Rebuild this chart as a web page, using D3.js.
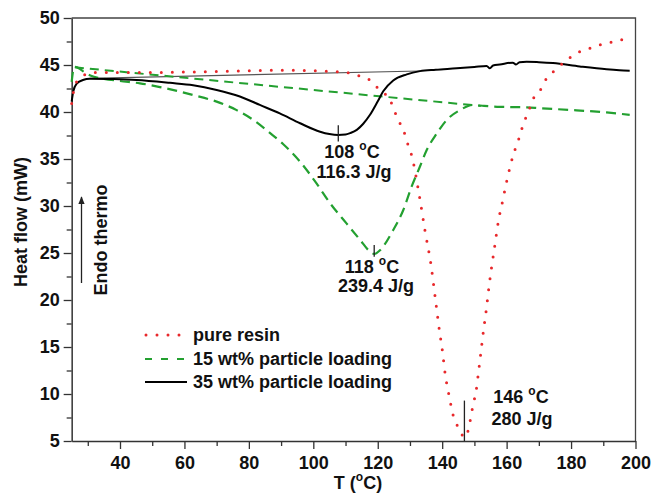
<!DOCTYPE html>
<html>
<head>
<meta charset="utf-8">
<script src="https://cdn.jsdelivr.net/npm/d3@7"></script>
<style>
  html, body { margin: 0; padding: 0; background: #fff; }
  svg { display: block; }
  text { font-family: "Liberation Sans", Arial, sans-serif; font-weight: bold; fill: #111; }
</style>
</head>
<body>
<svg id="chart" width="651" height="494"></svg>
<script>
// ---------- data ----------
const xTicks = [40, 60, 80, 100, 120, 140, 160, 180, 200];
const yTicks = [5, 10, 15, 20, 25, 30, 35, 40, 45, 50];

const redT = [25.0, 25.5, 26.3, 28.0, 29.4, 32.9, 40, 50, 60, 70, 80, 90, 100, 106, 110.3, 113.8, 117.5, 120.7, 123.8, 125.3, 126.9, 128.5, 129.4, 130.5, 133.1, 134.7, 136.5, 137.8, 139.1, 140.1, 140.9, 142.1, 143.5, 145.5, 146.5, 147.3, 148.1, 149.5, 150.6, 151.3, 152.0, 152.8, 153.7, 154.5, 155.4, 156.4, 157.4, 158.8, 160.2, 161.9, 163.1, 164.2, 165.2, 166.8, 167.8, 170.2, 171.9, 175.0, 178.6, 181.7, 185.3, 188.5, 192.1, 195.2, 198.8];
const redH = [40.9, 42.0, 43.05, 43.7, 44.0, 44.2, 44.2, 44.2, 44.25, 44.3, 44.4, 44.45, 44.4, 44.3, 44.2, 43.9, 43.4, 42.3, 41.3, 40.0, 38.8, 37.55, 36.5, 35.4, 30.7, 27.3, 23.8, 20.35, 16.85, 14.5, 12.2, 9.9, 7.6, 6.2, 5.5, 5.4, 6.2, 8.7, 10.5, 12.4, 14.4, 16.7, 19.0, 21.35, 23.65, 25.95, 28.3, 30.6, 32.9, 35.25, 36.5, 37.55, 38.8, 40.0, 41.1, 42.15, 43.3, 44.45, 45.5, 46.25, 46.7, 47.1, 47.4, 47.65, 48.0];

const greenT = [25.0, 25.8, 27.5, 29.0, 31.0, 33.8, 40, 46.2, 52.4, 57, 62.7, 70, 76.2, 81.4, 86.6, 90.6, 95.8, 101.0, 105.2, 110.3, 114.5, 117.6, 118.9, 120.7, 124.8, 127.9, 130.5, 133.1, 135.2, 138.3, 141.4, 145.5, 149.6, 153, 157.9, 166.2, 170.3, 180.7, 191.0, 198.2];
const greenH = [43.2, 44.8, 44.6, 44.2, 43.85, 43.6, 43.3, 43.05, 42.65, 42.3, 41.8, 41.1, 40.2, 39.15, 37.75, 36.6, 34.75, 32.4, 30.3, 28.15, 26.4, 25.15, 24.9, 25.3, 27.45, 29.55, 32.05, 34.2, 35.95, 37.7, 39.15, 40.2, 40.75, 40.65, 40.55, 40.5, 40.4, 40.2, 39.95, 39.7];

const blackT = [25.0, 25.5, 26.5, 28.5, 30.6, 38, 45.1, 55.5, 62.7, 70, 77.2, 83.4, 89.6, 95.9, 102.1, 105, 107.7, 110, 111.4, 113.5, 115.5, 117.6, 120.1, 121.7, 124.8, 129.0, 133.1, 138, 144.5, 150, 153.8, 154.8, 155.8, 157.9, 161.9, 162.9, 164, 166.2, 170, 174.4, 182.7, 191.0, 195, 198.2];
const blackH = [41.1, 42.2, 43.0, 43.4, 43.55, 43.5, 43.4, 43.1, 42.85, 42.35, 41.65, 40.75, 39.85, 38.8, 37.9, 37.65, 37.55, 37.6, 37.75, 38.1, 38.75, 39.7, 41.2, 42.2, 43.35, 44.0, 44.35, 44.5, 44.65, 44.8, 44.9, 44.65, 44.95, 45.05, 45.25, 45.05, 45.3, 45.35, 45.3, 45.2, 44.85, 44.55, 44.45, 44.4];

const greenBaseT = [26.0, 152.0];
const greenBaseH = [44.75, 40.65];
const blackBaseT = [30.6, 133.1];
const blackBaseH = [43.58, 44.36];

// peak markers: [T, Hlow, Hhigh]
const markerT = [107.75, 118.9, 146.9];
const markerLo = [36.85, 24.6, 5];
const markerHi = [38.6, 25.85, 9.3];

const seriesNames = ["pure resin", "15 wt% particle loading", "35 wt% particle loading"];
const peakTemps = ["108", "118", "146"];
const peakEnth = ["116.3 J/g", "239.4 J/g", "280 J/g"];

// ---------- drawing ----------
const svg = d3.select("#chart");
const L = 71.67, R = 635.5, T = 18, B = 441;
const x = d3.scaleLinear().domain([25, 200]).range([L, R]);
const y = d3.scaleLinear().domain([5, 50]).range([B, T]);

const RED = "#e8282b", GREEN = "#23a030", BLACK = "#000";

// frame (top, right)
svg.append("path").attr("d", `M${L},${T}H${R}V${B}`).attr("fill", "none")
  .attr("stroke", "#444").attr("stroke-width", 1.3);

// axes
const xMinor = d3.range(30, 200, 20);
const yMinor = d3.range(7.5, 50, 5);
const axisColor = "#333";
function styleAxis(g) {
  g.select(".domain").attr("stroke", axisColor).attr("stroke-width", 1.5);
  g.selectAll(".tick line").attr("stroke", axisColor).attr("stroke-width", 1.3);
  g.selectAll("text").attr("font-size", 18).attr("font-family", "Liberation Sans, Arial, sans-serif")
    .attr("font-weight", "bold").attr("fill", "#111");
}
const gx = svg.append("g").attr("transform", `translate(0,${B})`)
  .call(d3.axisBottom(x).tickValues(xTicks).tickSize(8).tickPadding(7).tickSizeOuter(0));
styleAxis(gx);
const gxm = svg.append("g").attr("transform", `translate(0,${B})`)
  .call(d3.axisBottom(x).tickValues(xMinor).tickSize(5).tickFormat(""));
styleAxis(gxm); gxm.select(".domain").remove();

const gy = svg.append("g").attr("transform", `translate(${L},0)`)
  .call(d3.axisLeft(y).tickValues(yTicks).tickSize(8).tickPadding(4).tickSizeOuter(0));
styleAxis(gy);
const gym = svg.append("g").attr("transform", `translate(${L},0)`)
  .call(d3.axisLeft(y).tickValues(yMinor).tickSize(5).tickFormat(""));
styleAxis(gym); gym.select(".domain").remove();

// lines
const line = d3.line().x(d => x(d[0])).y(d => y(d[1])).curve(d3.curveMonotoneX);
const zip = (a, b) => a.map((v, i) => [v, b[i]]);

svg.append("path").datum(zip(blackBaseT, blackBaseH)).attr("d", line)
  .attr("fill", "none").attr("stroke", "#555").attr("stroke-width", 1.2);
svg.append("path").datum(zip(greenBaseT, greenBaseH)).attr("d", line)
  .attr("fill", "none").attr("stroke", GREEN).attr("stroke-width", 2).attr("stroke-dasharray", "9,6");

svg.append("path").datum(zip(greenT, greenH)).attr("d", line)
  .attr("fill", "none").attr("stroke", GREEN).attr("stroke-width", 2.2).attr("stroke-dasharray", "10,6");
svg.append("path").datum(zip(blackT, blackH)).attr("d", line)
  .attr("fill", "none").attr("stroke", BLACK).attr("stroke-width", 2);
svg.append("path").datum(zip(redT, redH)).attr("d", line)
  .attr("fill", "none").attr("stroke", RED).attr("stroke-width", 3)
  .attr("stroke-linecap", "round").attr("stroke-dasharray", "0,11");

// peak markers
markerT.forEach((t, i) => {
  svg.append("line").attr("x1", x(t)).attr("x2", x(t))
    .attr("y1", y(markerLo[i])).attr("y2", y(markerHi[i]))
    .attr("stroke", "#222").attr("stroke-width", 1.3);
});

// annotations
const annPos = [[352, 158, 354, 178], [372, 273, 376, 292], [521, 403, 522, 425]];
function degText(sel, prefix, suffix) {
  sel.append("tspan").text(prefix);
  sel.append("tspan").text("o").attr("font-size", 12).attr("dy", -8);
  sel.append("tspan").text(suffix).attr("dy", 8);
}
peakTemps.forEach((p, i) => {
  const a = annPos[i];
  const t1 = svg.append("text").attr("x", a[0]).attr("y", a[1]).attr("text-anchor", "middle").attr("font-size", 18);
  degText(t1, p + " ", "C");
  svg.append("text").attr("x", a[2]).attr("y", a[3]).attr("text-anchor", "middle").attr("font-size", 18).text(peakEnth[i]);
});

// axis titles
const xt = svg.append("text").attr("x", 358).attr("y", 489).attr("text-anchor", "middle").attr("font-size", 18);
degText(xt, "T (", "C)");
svg.append("text").attr("transform", "translate(27,222) rotate(-90)").attr("text-anchor", "middle")
  .attr("font-size", 18).text("Heat flow (mW)");
svg.append("text").attr("transform", "translate(107,240) rotate(-90)").attr("text-anchor", "middle")
  .attr("font-size", 18).text("Endo thermo");

// arrow
svg.append("defs").append("marker").attr("id", "arr").attr("viewBox", "0 0 10 10")
  .attr("refX", 9).attr("refY", 5).attr("markerWidth", 8).attr("markerHeight", 8)
  .attr("markerUnits", "userSpaceOnUse").attr("orient", "auto")
  .append("path").attr("d", "M0,1L10,5L0,9Z").attr("fill", "#222");
svg.append("line").attr("x1", 81.5).attr("x2", 81.5).attr("y1", 283).attr("y2", 197)
  .attr("stroke", "#222").attr("stroke-width", 1.3).attr("marker-end", "url(#arr)");

// legend
const legY = [335, 359, 382];
const legStyles = [
  { c: RED, w: 3, d: "0,11", cap: "round" },
  { c: GREEN, w: 2.2, d: "7,9", cap: "butt" },
  { c: BLACK, w: 2, d: null, cap: "butt" }
];
seriesNames.forEach((n, i) => {
  const s = legStyles[i];
  const ln = svg.append("line").attr("x1", i === 0 ? 146 : 145).attr("x2", 187)
    .attr("y1", legY[i]).attr("y2", legY[i])
    .attr("stroke", s.c).attr("stroke-width", s.w).attr("stroke-linecap", s.cap);
  if (s.d) ln.attr("stroke-dasharray", s.d);
  svg.append("text").attr("x", 193).attr("y", legY[i]).attr("dy", "0.36em")
    .attr("font-size", 18).text(n);
});
</script>
</body>
</html>
